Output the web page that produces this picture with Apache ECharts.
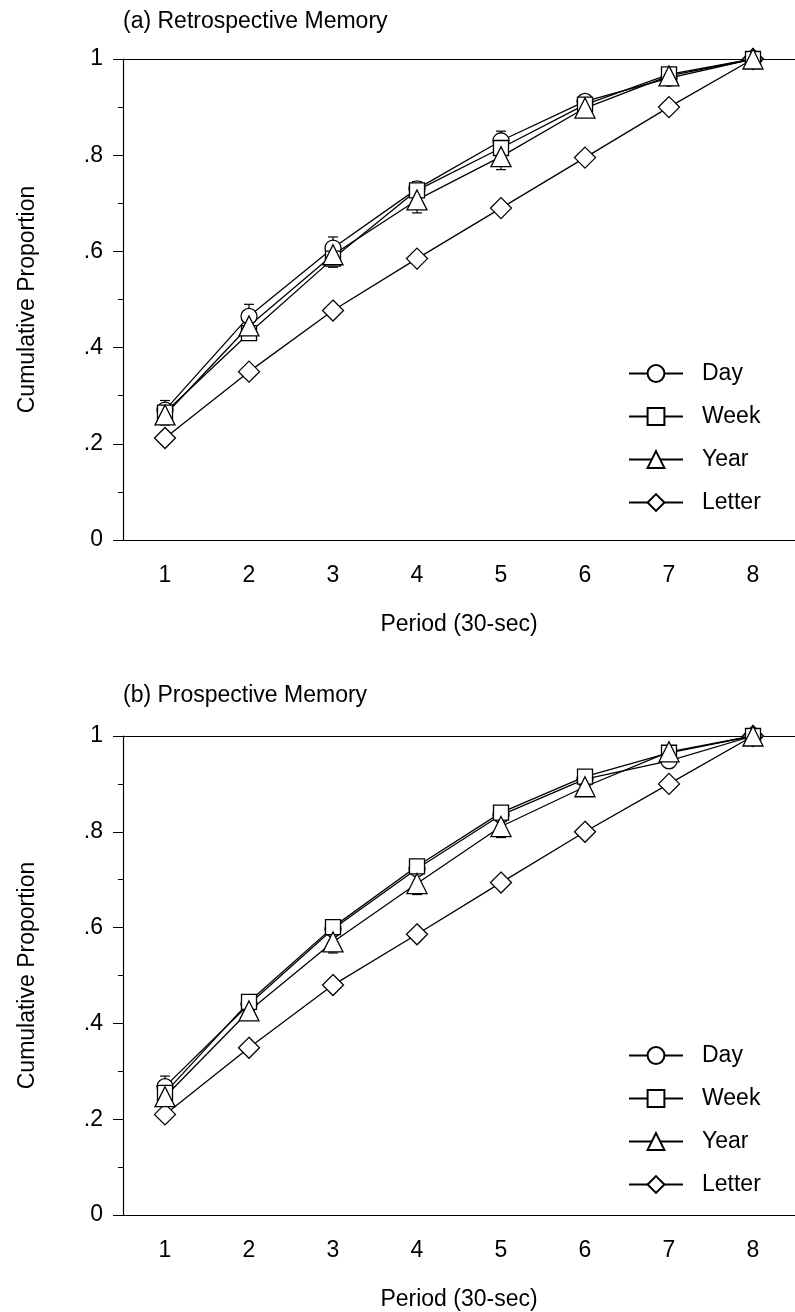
<!DOCTYPE html>
<html>
<head>
<meta charset="utf-8">
<script src="https://cdn.jsdelivr.net/npm/echarts@6/dist/echarts.min.js"></script>
<style>
  html, body { margin: 0; padding: 0; background: #fff; }
  #main { width: 795px; height: 1312px; }
</style>
</head>
<body>
<div id="main"></div>
<script>
var periods = ['1', '2', '3', '4', '5', '6', '7', '8'];

// (a) Retrospective Memory
var retroDay = [0.27, 0.465, 0.607, 0.73, 0.83, 0.912, 0.96, 1];
var retroWeek = [0.265, 0.43, 0.585, 0.727, 0.815, 0.905, 0.968, 1];
var retroYear = [0.26, 0.445, 0.593, 0.707, 0.797, 0.898, 0.965, 1];
var retroLetter = [0.212, 0.35, 0.477, 0.585, 0.69, 0.795, 0.9, 1];
var retroDayUpper = [0.29, 0.49, 0.63, 0.745, 0.85, 0.925, null, null];
var retroYearLower = [0.239, 0.42, 0.567, 0.68, 0.77, 0.885, 0.955, null];

// (b) Prospective Memory
var prospDay = [0.268, 0.44, 0.597, 0.723, 0.835, 0.91, 0.948, 1];
var prospWeek = [0.255, 0.445, 0.601, 0.728, 0.84, 0.915, 0.965, 1];
var prospYear = [0.247, 0.426, 0.57, 0.692, 0.811, 0.894, 0.967, 1];
var prospLetter = [0.21, 0.349, 0.48, 0.586, 0.694, 0.8, 0.9, 1];
var prospDayUpper = [0.29, null, null, null, null, null, null, null];
var prospYearLower = [0.228, 0.407, 0.547, 0.669, 0.788, 0.88, null, null];

var yTicks = ['0', '.2', '.4', '.6', '.8', '1'];

var myChart = echarts.init(document.getElementById('main'));
var font = "'Liberation Sans', Arial, sans-serif";

function errData(vals, ends) {
  var out = [];
  for (var i = 0; i < vals.length; i++) {
    if (ends[i] != null) out.push([i, vals[i], ends[i]]);
  }
  return out;
}

function errorBar(params, api) {
  var p0 = api.coord([api.value(0), api.value(1)]);
  var p1 = api.coord([api.value(0), api.value(2)]);
  var w = 5;
  return {
    type: 'group',
    children: [
      { type: 'line', shape: { x1: p0[0], y1: p0[1], x2: p1[0], y2: p1[1] }, style: { stroke: '#000', lineWidth: 1.2 } },
      { type: 'line', shape: { x1: p1[0] - w, y1: p1[1], x2: p1[0] + w, y2: p1[1] }, style: { stroke: '#000', lineWidth: 1.2 } }
    ]
  };
}

var symbols = { Day: ['circle', 16], Week: ['rect', 15], Year: ['triangle', 20], Letter: ['diamond', 21] };

function lineSeries(name, data, idx) {
  return {
    name: name,
    type: 'line',
    xAxisIndex: idx * 2,
    yAxisIndex: idx,
    data: data,
    symbol: symbols[name][0],
    symbolSize: symbols[name][1],
    showAllSymbol: true,
    lineStyle: { color: '#000', width: 1.3 },
    itemStyle: { color: '#fff', borderColor: '#000', borderWidth: 1.3 },
    z: 3
  };
}

function errSeries(data, idx) {
  return {
    type: 'custom',
    xAxisIndex: idx * 2,
    yAxisIndex: idx,
    renderItem: errorBar,
    data: data,
    z: 2
  };
}

function xAxes(grid) {
  return [
    {
      type: 'category', gridIndex: grid, data: periods, position: 'bottom',
      axisLine: { lineStyle: { color: '#000', width: 1.2 } },
      axisTick: { alignWithLabel: true, length: 5, lineStyle: { color: '#000' } },
      axisLabel: { color: '#000', fontSize: 23, fontFamily: font, margin: 24 },
      name: 'Period (30-sec)', nameLocation: 'middle', nameGap: 73,
      nameTextStyle: { color: '#000', fontSize: 23, fontFamily: font }
    },
    {
      type: 'category', gridIndex: grid, data: periods, position: 'top',
      axisLine: { lineStyle: { color: '#000', width: 1.2 } },
      axisTick: { alignWithLabel: true, length: 5, lineStyle: { color: '#000' } },
      axisLabel: { show: false }
    }
  ];
}

function yAxis(grid) {
  return {
    type: 'value', gridIndex: grid, min: 0, max: 1, interval: 0.2,
    axisLine: { show: true, lineStyle: { color: '#000', width: 1.2 } },
    axisTick: { show: true, length: 10, lineStyle: { color: '#000' } },
    minorTick: { show: true, splitNumber: 2, length: 5, lineStyle: { color: '#000' } },
    splitLine: { show: false },
    axisLabel: {
      color: '#000', fontSize: 23, fontFamily: font, margin: 20,
      formatter: function (v) { return yTicks[Math.round(v * 5)]; }
    },
    name: 'Cumulative Proportion', nameLocation: 'middle', nameGap: 84,
    nameTextStyle: { color: '#000', fontSize: 23, fontFamily: font }
  };
}

function legend(top) {
  return {
    orient: 'vertical', left: 623, top: top,
    itemWidth: 54, itemHeight: 21, itemGap: 20,
    data: ['Day', 'Week', 'Year', 'Letter'],
    textStyle: { color: '#000', fontSize: 23, fontFamily: font, lineHeight: 22, padding: [0, 0, 0, 14] }
  };
}

var option = {
  backgroundColor: '#fff',
  animation: false,
  title: [
    { text: '(a) Retrospective Memory', left: 118, top: 5, textStyle: { color: '#000', fontSize: 23, fontWeight: 'normal', fontFamily: font } },
    { text: '(b) Prospective Memory', left: 118, top: 679, textStyle: { color: '#000', fontSize: 23, fontWeight: 'normal', fontFamily: font } }
  ],
  legend: [legend(357), legend(1039)],
  grid: [
    { left: 123, top: 59, width: 672, height: 481 },
    { left: 123, top: 736, width: 672, height: 481 }
  ],
  xAxis: xAxes(0).concat(xAxes(1)),
  yAxis: [yAxis(0), yAxis(1)],
  series: [
    errSeries(errData(retroDay, retroDayUpper), 0),
    errSeries(errData(retroYear, retroYearLower), 0),
    lineSeries('Letter', retroLetter, 0),
    lineSeries('Day', retroDay, 0),
    lineSeries('Week', retroWeek, 0),
    lineSeries('Year', retroYear, 0),
    errSeries(errData(prospDay, prospDayUpper), 1),
    errSeries(errData(prospYear, prospYearLower), 1),
    lineSeries('Letter', prospLetter, 1),
    lineSeries('Day', prospDay, 1),
    lineSeries('Week', prospWeek, 1),
    lineSeries('Year', prospYear, 1)
  ]
};

myChart.setOption(option);
</script>
</body>
</html>
